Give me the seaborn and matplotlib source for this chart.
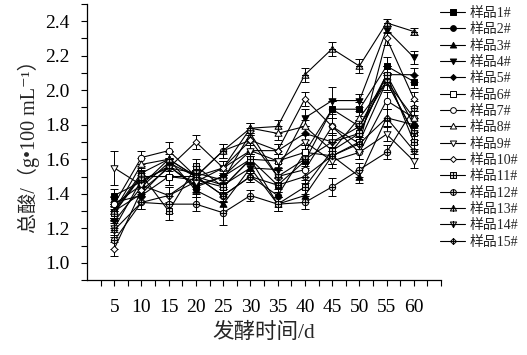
import numpy as np
import pandas as pd
import matplotlib
matplotlib.use("Agg")
import matplotlib.pyplot as plt
from matplotlib.path import Path
from matplotlib.lines import Line2D
from matplotlib.ticker import FixedLocator
import seaborn as sns

sns.set_style("ticks")
plt.rcParams['font.family'] = ['Liberation Serif', 'Noto Sans CJK SC', 'DejaVu Sans']

days = [5, 10, 15, 20, 25, 30, 35, 40, 45, 50, 55, 60]
labels = [f"样品{i}#" for i in range(1, 16)]
yticks = [1.0, 1.2, 1.4, 1.6, 1.8, 2.0, 2.2, 2.4]

s1 = [1.39, 1.47, 1.56, 1.44, 1.50, 1.60, 1.45, 1.59, 1.89, 1.89, 2.14, 2.05]
s2 = [1.35, 1.39, 1.50, 1.50, 1.39, 1.50, 1.39, 1.64, 1.89, 1.79, 2.09, 1.80]
s3 = [1.34, 1.45, 1.60, 1.42, 1.34, 1.55, 1.34, 1.39, 1.62, 1.50, 1.84, 1.80]
s4 = [1.24, 1.44, 1.58, 1.50, 1.45, 1.55, 1.54, 1.84, 1.94, 1.94, 2.35, 2.19]
s5 = [1.30, 1.40, 1.56, 1.45, 1.50, 1.65, 1.65, 1.75, 1.70, 1.75, 2.09, 2.09]
s6 = [1.29, 1.50, 1.50, 1.48, 1.44, 1.60, 1.59, 1.64, 1.62, 1.70, 2.05, 1.75]
s7 = [1.34, 1.61, 1.65, 1.50, 1.65, 1.71, 1.50, 1.54, 1.79, 1.64, 1.94, 1.84]
s8 = [1.30, 1.57, 1.60, 1.50, 1.55, 1.78, 1.75, 1.79, 1.65, 1.84, 2.05, 1.84]
s9 = [1.55, 1.45, 1.39, 1.47, 1.55, 1.65, 1.59, 1.70, 1.59, 1.64, 1.745, 1.59]
s10 = [1.08, 1.42, 1.55, 1.70, 1.55, 1.71, 1.65, 1.95, 1.79, 1.69, 2.30, 1.95]
s11 = [1.29, 1.51, 1.30, 1.56, 1.44, 1.60, 1.34, 1.44, 1.65, 1.75, 2.09, 1.70]
s12 = [1.13, 1.35, 1.34, 1.34, 1.29, 1.39, 1.34, 1.35, 1.44, 1.54, 1.64, 1.895]
s13 = [1.30, 1.52, 1.60, 1.50, 1.65, 1.78, 1.79, 2.09, 2.24, 2.14, 2.39, 2.34]
s14 = [1.20, 1.48, 1.55, 1.52, 1.48, 1.75, 1.50, 1.60, 1.70, 1.79, 2.05, 1.75]
s15 = [1.19, 1.35, 1.39, 1.50, 1.39, 1.50, 1.45, 1.50, 1.62, 1.69, 1.84, 1.65]
series = [s1, s2, s3, s4, s5, s6, s7, s8, s9, s10, s11, s12, s13, s14, s15]

e_small = [0.04, 0.04, 0.05, 0.04, 0.04, 0.03, 0.04, 0.04, 0.05, 0.04, 0.05, 0.04]
e9 = [0.10, 0.04, 0.05, 0.04, 0.04, 0.03, 0.04, 0.04, 0.04, 0.04, 0.04, 0.04]
e12 = [0.05, 0.04, 0.05, 0.04, 0.07, 0.03, 0.04, 0.04, 0.05, 0.04, 0.04, 0.04]
e10 = [0.04, 0.04, 0.05, 0.04, 0.04, 0.03, 0.04, 0.04, 0.05, 0.04, 0.04, 0.04]
e13 = [0.04, 0.04, 0.04, 0.04, 0.04, 0.03, 0.04, 0.04, 0.04, 0.04, 0.02, 0.02]
e4 = [0.04, 0.04, 0.05, 0.04, 0.04, 0.03, 0.04, 0.05, 0.08, 0.04, 0.02, 0.04]
errors = [e_small, e_small, e_small, e4, e_small, e_small, e_small, e_small,
          e9, e10, e_small, e12, e13, e_small, e_small]


def make_marker(shape, cross):
    if shape == 's':
        outline = [(-1, -1), (1, -1), (1, 1), (-1, 1), (-1, -1)]
    elif shape == '^':
        outline = [(-1, -0.8), (1, -0.8), (0, 1), (-1, -0.8)]
    elif shape == 'v':
        outline = [(-1, 0.8), (1, 0.8), (0, -1), (-1, 0.8)]
    elif shape == 'D':
        outline = [(0, -1), (1, 0), (0, 1), (-1, 0), (0, -1)]
    else:
        t = np.linspace(0, 2 * np.pi, 41)
        outline = list(zip(np.cos(t), np.sin(t)))
    verts = list(outline)
    codes = [Path.MOVETO] + [Path.LINETO] * (len(outline) - 2) + [Path.CLOSEPOLY]
    if cross:
        verts += [(-1, 0), (1, 0), (0, -1), (0, 1)]
        codes += [Path.MOVETO, Path.LINETO, Path.MOVETO, Path.LINETO]
    return Path(verts, codes)


shapes = ['s', 'o', '^', 'v', 'D'] * 3
fills = ['black'] * 5 + ['white'] * 5 + ['#cccccc'] * 5
crosses = [False] * 10 + [True] * 5
sizes = {'s': 4.2, 'o': 4.6, '^': 5.0, 'v': 5.0, 'D': 4.8}

fig = plt.figure(figsize=(5.27, 3.55), dpi=100)
ax = fig.add_axes([0.165, 0.211, 0.672, 0.778])

handles = []
for i, (vals, err) in enumerate(zip(series, errors)):
    mk = make_marker(shapes[i], crosses[i])
    df = pd.DataFrame({'day': days, 'val': vals})
    ax.errorbar(days, vals, yerr=err, fmt='none', ecolor='black',
                elinewidth=0.7, capsize=2.8, capthick=0.7, zorder=1)
    sns.lineplot(data=df, x='day', y='val', ax=ax, color='black', lw=0.8,
                 marker=mk, markersize=sizes[shapes[i]], markerfacecolor=fills[i],
                 markeredgecolor='black', markeredgewidth=0.7, zorder=2 + i,
                 legend=False)
    handles.append(Line2D([0], [0], color='black', lw=0.8, marker=mk,
                          markersize=sizes[shapes[i]] * 0.9, markerfacecolor=fills[i],
                          markeredgecolor='black', markeredgewidth=0.7))

ax.set_xlim(0, 65)
ax.set_ylim(0.9, 2.5)
ax.xaxis.set_major_locator(FixedLocator(days))
ax.xaxis.set_minor_locator(FixedLocator([2.5 + 5 * k for k in range(13)] + [65]))
ax.yaxis.set_major_locator(FixedLocator(yticks))
ax.yaxis.set_minor_locator(FixedLocator([0.9, 1.1, 1.3, 1.5, 1.7, 1.9, 2.1, 2.3, 2.5]))
ax.set_xticklabels([str(d) for d in days])
ax.set_yticklabels([f"{v:.1f}" for v in yticks])
ax.tick_params(axis='both', which='both', direction='out', length=4.5, width=0.8,
               labelsize=14, colors='black')
ax.tick_params(axis='x', which='both', pad=9)
ax.tick_params(axis='y', which='both', pad=8)
for sp in ['top', 'right']:
    ax.spines[sp].set_visible(False)
for sp in ['left', 'bottom']:
    ax.spines[sp].set_linewidth(0.9)
    ax.spines[sp].set_color('black')

ax.set_xlabel("发酵时间/d", fontsize=15.5, labelpad=5)
ax.set_ylabel("总酸/（g•100 mL⁻¹）", fontsize=14.5, labelpad=4)

fig.legend(handles, labels, loc='upper left', bbox_to_anchor=(0.822, 1.0),
           frameon=False, fontsize=10, handlelength=1.8, handletextpad=0.3,
           labelspacing=0.24, borderaxespad=0.2, borderpad=0.3)

fig.savefig("out.png", dpi=100)
